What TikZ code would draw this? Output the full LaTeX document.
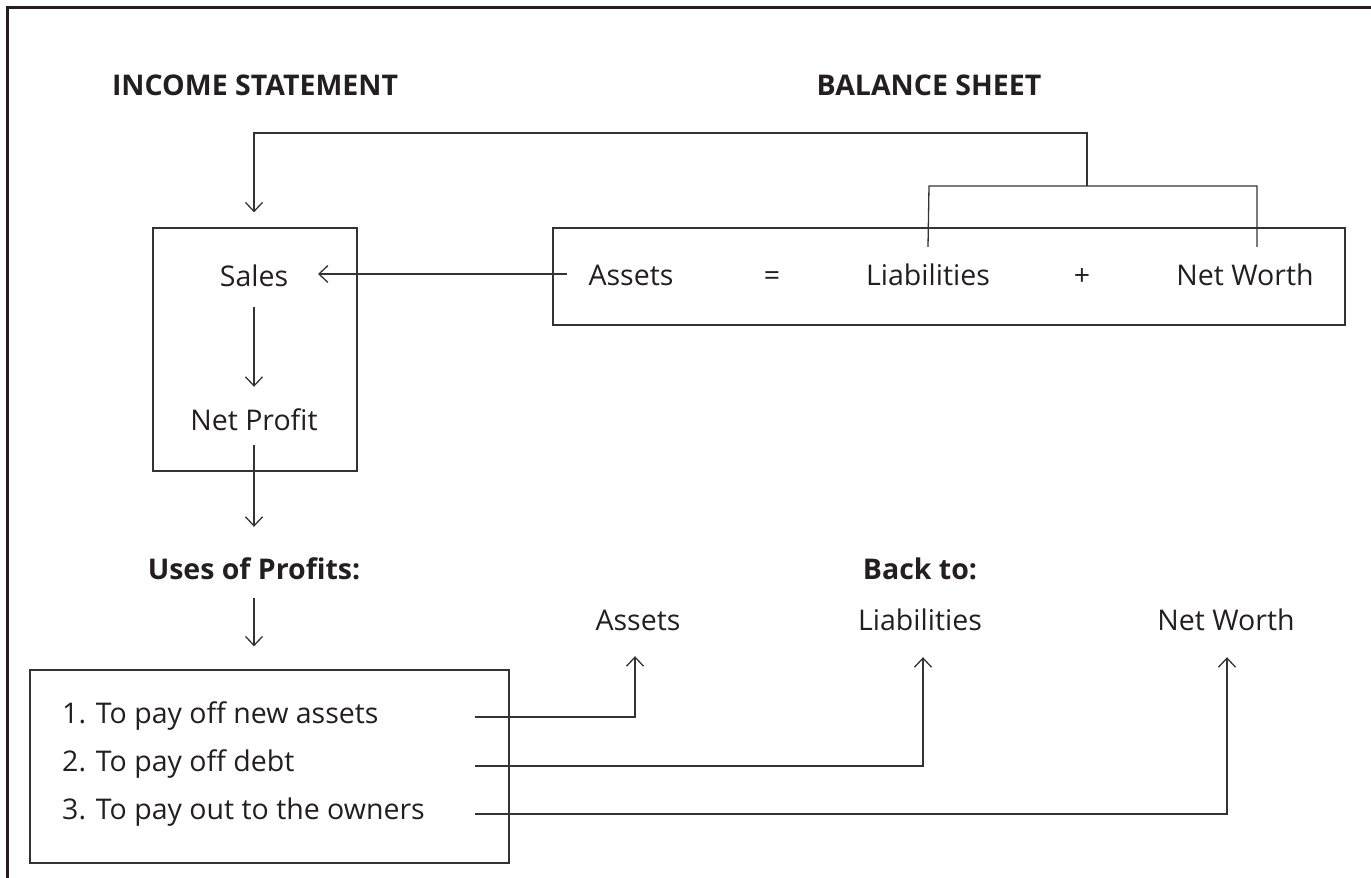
\documentclass[tikz,border=0pt]{standalone}
\usepackage{fontspec}
\setmainfont{Open Sans}
\usetikzlibrary{arrows.meta}
\definecolor{ink}{HTML}{231F20}
\definecolor{lncol}{HTML}{333333}
\begin{document}
\begin{tikzpicture}[x=1pt,y=-1pt,
  txt/.style={inner sep=0pt, text height=20pt, text depth=0pt, anchor=base, text=ink, font=\fontsize{28.5}{33}\selectfont},
  hd/.style={txt, font=\fontsize{28.5}{33}\selectfont\bfseries},
  boxn/.style={draw=lncol, line width=1.3pt, inner sep=0pt},
  ln/.style={draw=lncol, line width=1.3pt},
  arr/.style={ln, -{Straight Barb[length=9pt,width=17pt,line width=1.3pt]}}]
\useasboundingbox (0,0) rectangle (1371,878);
\clip (0,0) rectangle (1371,878);
% outer frame
\draw[draw=ink, line width=3pt] (7,7) rectangle (1400,900);
% boxes
\node[boxn, minimum width=204pt, minimum height=243pt] (incbox) at (255,349.5) {};
\node[boxn, minimum width=792pt, minimum height=97pt] (balbox) at (949,276.5) {};
\node[boxn, minimum width=479pt, minimum height=193pt] (usebox) at (269.5,766.5) {};
% headings
\node[hd] (inc) at (255,95) {INCOME STATEMENT};
\node[hd] (bal) at (929,95) {BALANCE SHEET};
% income statement texts
\node[txt] (sales) at (254,286) {Sales};
\node[txt] (np) at (254,430) {Net Profit};
\node[hd] (uses) at (254,579) {Uses of Profits:};
% balance sheet texts
\node[txt] (bA) at (631,285) {Assets};
\node[txt] (beq) at (772,285) {=};
\node[txt] (bL) at (928,285) {Liabilities};
\node[txt] (bplus) at (1082,285) {+};
\node[txt] (bN) at (1245,285) {Net Worth};
% back to
\node[hd] (back) at (920,579) {Back to:};
\node[txt] (lA) at (638,630) {Assets};
\node[txt] (lL) at (920,630) {Liabilities};
\node[txt] (lN) at (1226,630) {Net Worth};
% uses list
\node[txt, anchor=base west] (u1) at (62,723) {1. To pay off new assets};
\node[txt, anchor=base west] (u2) at (62,771) {2. To pay off debt};
\node[txt, anchor=base west] (u3) at (62,819) {3. To pay out to the owners};
% coordinates for connector ends
\coordinate (brL) at ([yshift=18pt]bL.north);
\coordinate (brN) at ([xshift=12pt,yshift=18pt]bN.north);
\coordinate (brTop) at (1087,186);
\coordinate (fbTop) at (1087,133);
\coordinate (salesIn) at (567,274);
% bracket
\draw[ln] (brL) -- (929,186) -- (1257,186) -- (brN);
% feedback to income statement
\draw[arr] (brTop) -- (fbTop) -| ([yshift=15pt]incbox.north -| sales.south);
% assets to sales
\draw[arr] (salesIn) -- (318,274);
% sales to net profit
\draw[arr] ([yshift=-21pt]sales.south) -- ([yshift=23pt]np.north);
% net profit to uses
\draw[arr] ([yshift=-15pt]np.south) -- ([yshift=32pt]uses.north);
% uses to list box
\draw[arr] ([yshift=-19pt]uses.south) -- ([yshift=23pt]usebox.north -| uses.south);
% list to back-to items
\draw[arr] (475,717) -| ([yshift=-26pt]lA.south -| 635,0);
\draw[arr] (475,766) -| ([yshift=-27pt]lL.south -| 923,0);
\draw[arr] (475,814) -| ([yshift=-27pt]lN.south -| 1227,0);
\end{tikzpicture}
\end{document}
